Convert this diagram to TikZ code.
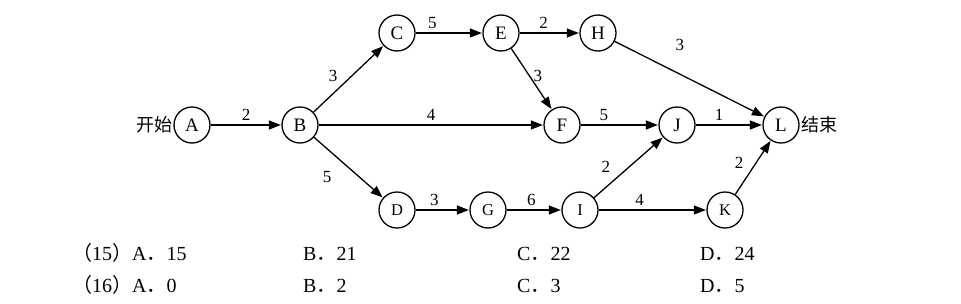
\documentclass[tikz,border=0pt]{standalone}
\usepackage{fontspec}
\setmainfont{Liberation Serif}
\newfontfamily\cjk{Noto Sans CJK SC}
\usepackage{tikz}
\usetikzlibrary{arrows.meta}
\newcommand{\zh}[1]{{\cjk #1}}

\begin{document}
\begin{tikzpicture}[
  x=1pt,y=-1pt,
  ev/.style={draw,circle,line width=1.3pt,minimum size=36pt,inner sep=0pt,font=\fontsize{19}{21}\selectfont},
  evs/.style={ev,font=\fontsize{16.5}{19}\selectfont},
  arr/.style={-{Triangle[length=12pt,width=9pt]},line width=1.3pt,shorten >=0.5pt},
  wt/.style={font=\fontsize{17}{19}\selectfont,inner sep=3.5pt},
  opt/.style={anchor=base west,inner sep=0pt,font=\fontsize{20}{23}\selectfont}
]
\useasboundingbox (0,0) rectangle (961,303);

% events
\node[ev] (A) at (192,125) {A};
\node[ev] (B) at (300,125) {B};
\node[ev] (C) at (397,33) {C};
\node[ev] (E) at (501,33) {E};
\node[ev] (H) at (598,33) {H};
\node[ev] (F) at (562,125) {F};
\node[ev] (J) at (677,125) {J};
\node[ev] (L) at (781,125) {L};
\node[evs] (D) at (397,210) {D};
\node[evs] (G) at (488,210) {G};
\node[evs] (I) at (580,210) {I};
\node[evs] (K) at (725,210) {K};

\node[anchor=east,inner sep=1pt,font=\fontsize{18}{20}\cjk] (start) at (A.west) {开始};
\node[anchor=west,inner sep=1.5pt,font=\fontsize{18}{20}\cjk] (finish) at (L.east) {结束};

% activities
\draw[arr] (A) -- node[wt,above] {2} (B);
\draw[arr] (B) -- node[wt,above left,pos=0.4] {3} (C);
\draw[arr] (B) -- node[wt,above] {4} (F);
\draw[arr] (B) -- node[wt,below left,pos=0.5,xshift=-13pt] {5} (D);
\draw[arr] (C) -- node[wt,above,pos=0.25] {5} (E);
\draw[arr] (E) -- node[wt,above,pos=0.4] {2} (H);
\draw[arr] (E) -- node[wt,right,pos=0.45] {3} (F);
\draw[arr] (H) -- node[wt,above right,pos=0.38,yshift=15pt] {3} (L);
\draw[arr] (F) -- node[wt,above,pos=0.3] {5} (J);
\draw[arr] (J) -- node[wt,above,pos=0.35] {1} (L);
\draw[arr] (D) -- node[wt,above,pos=0.35] {3} (G);
\draw[arr] (G) -- node[wt,above,pos=0.45] {6} (I);
\draw[arr] (I) -- node[wt,above left,pos=0.35,xshift=-4pt] {2} (J);
\draw[arr] (I) -- node[wt,above,pos=0.38] {4} (K);
\draw[arr] (K) -- node[wt,above left,pos=0.4,xshift=-2pt] {2} (L);

% choices
\node[opt] (q15) at (72,260) {\zh{（}15\zh{）}A\zh{．}15};
\node[opt] (q15b) at (303,260) {B\zh{．}21};
\node[opt] (q15c) at (517,260) {C\zh{．}22};
\node[opt] (q15d) at (700,260) {D\zh{．}24};
\node[opt] (q16) at (72,292) {\zh{（}16\zh{）}A\zh{．}0};
\node[opt] (q16b) at (303,292) {B\zh{．}2};
\node[opt] (q16c) at (517,292) {C\zh{．}3};
\node[opt] (q16d) at (700,292) {D\zh{．}5};
\end{tikzpicture}
\end{document}
